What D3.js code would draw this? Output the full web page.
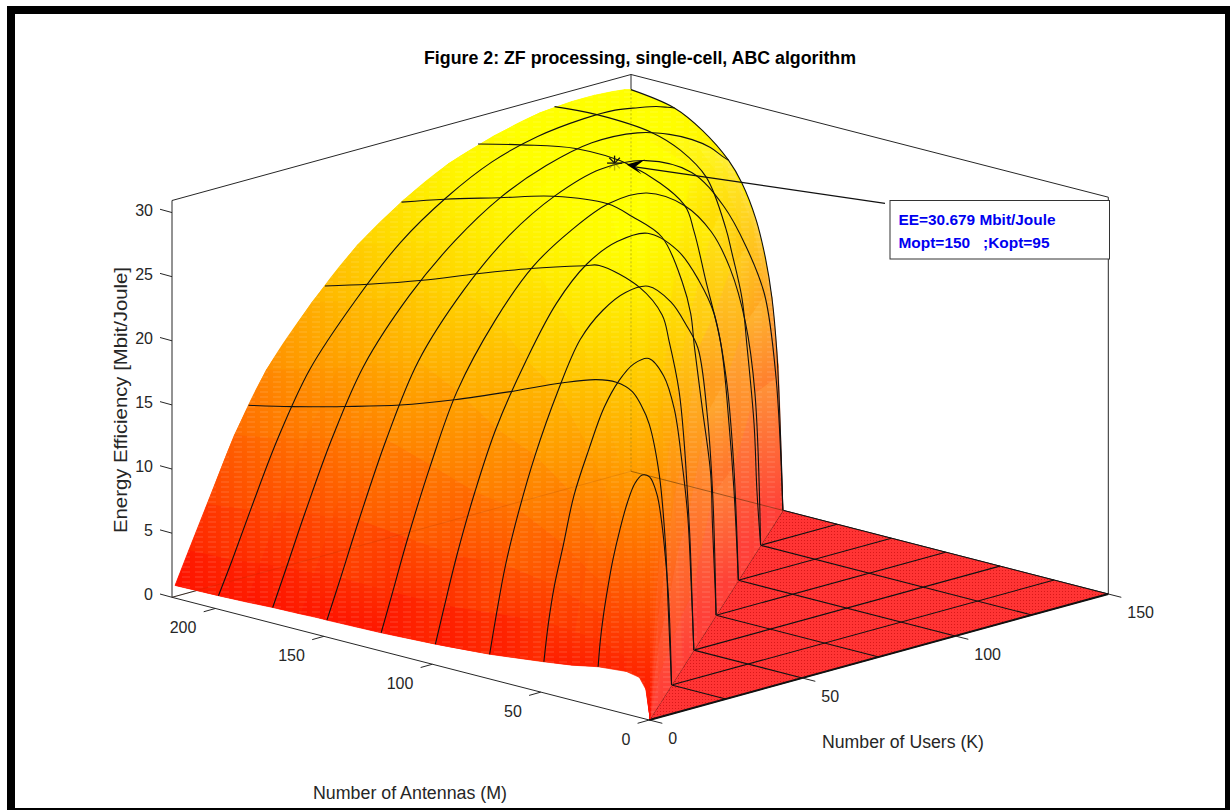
<!DOCTYPE html>
<html lang="en">

<head>
    <meta charset="UTF-8">
    <title>Figure 2: ZF processing, single-cell, ABC algorithm</title>
    <script src="https://d3js.org/d3.v7.min.js"></script>
    <style>
        body {
            margin: 0;
            background: #fff;
        }

        svg {
            display: block;
            font-family: "Liberation Sans", Arial, sans-serif;
        }

        .tick-label {
            font-size: 16px;
            fill: #262626;
        }

        .axis-label {
            font-size: 18px;
            fill: #262626;
        }

        .mesh {
            fill: none;
            stroke: #111;
            stroke-width: 1.1;
        }
    </style>
</head>

<body>
    <svg width="1230" height="810"></svg>

    <script>
        // Values
        const eeTicks = [0, 5, 10, 15, 20, 25, 30];
        const antennaTicks = [0, 50, 100, 150, 200];
        const userTicks = [0, 50, 100, 150];
        const gridLevels = [25, 50, 75, 100, 125];

        // Surface rows: one row per M, sampled at K = 1 + f * (min(M,150) - 1)
        const kFractions = [0, .03, .07, .13, .2, .3, .4, .5, .6, .7, .8, .87, .92, .96, .985, 1];
        const antennaRows = [1, 3, 6, 12, 25, 37, 50, 75, 100, 125, 150, 152, 155, 162, 175, 187, 200, 220];
        const eeRows = [
            [0, 0, 0, 0, 0, 0, 0, 0, 0, 0, 0, 0, 0, 0, 0, 0],
            [2.2, 2.3, 2.4, 2.5, 2.7, 2.9, 3.0, 3.1, 3.1, 2.9, 2.6, 2.2, 1.7, 1.2, .6, 0],
            [3, 3.3, 3.6, 4, 4.6, 5.3, 5.9, 6.3, 6.5, 6.3, 5.6, 4.8, 3.8, 2.7, 1.3, 0],
            [3.2, 4.2, 5, 6, 7.1, 8.5, 9.7, 10.5, 11, 10.7, 9.5, 8.2, 6.5, 4.7, 2.3, 0],
            [3, 5, 6.8, 8.9, 11, 13.3, 15.2, 16.5, 17, 16.7, 15.2, 12.7, 9.8, 6.8, 3.2, 0],
            [2.6, 5.1, 7.4, 9.8, 12.7, 15.5, 18.2, 20, 20.9, 21, 19.7, 17, 13.4, 9.3, 4, 0],
            [2.3, 5.2, 8, 11, 14.6, 17.9, 20.8, 22.6, 23.6, 23.7, 22, 19.2, 15, 10.5, 4.4, 0],
            [1.8, 4.8, 8.4, 12.4, 16.3, 20.8, 24.4, 26.2, 27.1, 27.1, 25.4, 23.2, 21.2, 16, 9.5, 0],
            [1.5, 4.3, 7.9, 12.5, 17, 21.7, 25.5, 27.9, 29, 29, 27, 24.2, 21.3, 16, 9, 0],
            [1.3, 4.2, 8.1, 13.3, 18.5, 23.2, 26.6, 28.6, 29.9, 29.9, 28.1, 25.5, 22.2, 17.7, 12, 0],
            [1.2, 4.2, 8.3, 14, 19.4, 24, 27.3, 29.4, 30.5, 30.2, 28.3, 25, 21.3, 17.2, 10.5, 0],
            [1.2, 4.2, 8.3, 14, 19.4, 24, 27.2, 29.3, 30.5, 30.3, 28.6, 25.4, 22.5, 19.5, 14, 11],
            [1.2, 4.1, 8.2, 13.8, 19.2, 23.9, 27, 29.2, 30.4, 30.4, 29, 26, 24, 22, 19, 16.3],
            [1.15, 4, 8, 13.5, 18.8, 23.3, 26.5, 28.9, 30.3, 30.5, 29.4, 27.3, 26.2, 24.8, 23, 21.9],
            [1.1, 3.9, 7.7, 13, 18, 22.5, 25.8, 28.2, 29.7, 30.5, 30.3, 29.5, 28.6, 27.6, 26.7, 26.2],
            [1, 3.7, 7.3, 12.4, 17.3, 21.7, 25.2, 27.7, 29.3, 30.2, 30.4, 30, 29.4, 28.8, 28.3, 28],
            [.93, 3.4, 6.9, 11.9, 16.6, 21, 24.6, 27.1, 28.9, 29.9, 30.3, 30.3, 30, 29.7, 29.4, 29.2],
            [.86, 3.3, 6.5, 11.3, 15.7, 20, 23.5, 26, 27.9, 29.1, 29.9, 30.1, 30.1, 30, 29.9, 29.76]
        ];

        // Constant-K mesh lines, M going from the K=M ridge out to 220
        const kLine25M = [25, 26.5, 27.9, 30.7, 35.3, 39, 43.1, 50.5, 59.8, 75, 100, 125, 150, 175, 200, 220];
        const kLine25EE = [0, 5.8, 11.1, 16.2, 19.9, 21.2, 22.1, 22.5, 22.3, 21.4, 19.6, 17.9, 16.4, 15.2, 14.1, 13.34];
        const kLine50M = [50, 50.8, 51.7, 53, 54.5, 56.8, 61.4, 64.6, 75, 93.6, 100, 125, 150, 175, 200, 220];
        const kLine50EE = [0, 3.9, 8.3, 12.3, 16.1, 19.9, 23.6, 25.5, 27.2, 28.1, 27.8, 26.5, 25, 23.4, 22, 21];
        const kLine75M = [75, 75.4, 76.7, 77.5, 81.4, 85, 86.7, 90.6, 100, 113.7, 125, 150, 175, 200, 220];
        const kLine75EE = [0, 1.9, 7.1, 10.9, 15.9, 20.5, 23, 25.3, 28.4, 29.4, 29.9, 29.4, 28.2, 27, 25.9];
        const kLine100M = [100, 102, 104.3, 108, 115, 120.4, 125, 150, 175, 200, 220];
        const kLine100EE = [0, 6.9, 12, 18, 22.7, 26.3, 28.2, 30.2, 30.4, 29.6, 28.8];
        const kLine125M = [125, 126.7, 128, 131.3, 133.6, 138.2, 141, 150, 162, 175, 200, 220];
        const kLine125EE = [0, 4.2, 9.3, 15.3, 18.9, 22.2, 24, 27.6, 29.2, 30, 30.3, 30.07];
        const kLine150M = [150, 151, 152.8, 155, 158, 162.5, 168.9, 175, 187, 200, 220];
        const kLine150EE = [0, 5.4, 12.3, 16.3, 19.3, 22.2, 24.7, 26.2, 28, 29.2, 29.76];

        // Optimum marked on the surface
        const optM = 150;
        const optK = 95;
        const optEE = 30.679;
        const calloutLines = ["EE=30.679 Mbit/Joule", "Mopt=150   ;Kopt=95"];

        const svg = d3.select("svg");

        // Orthographic view: each data axis gets an x and a y scale
        const origin = [649.3, 720];
        const maxM = 220, maxK = 150, maxEE = 30.94;
        const mX = d3.scaleLinear([0, maxM], [0, -477.3]);
        const mY = d3.scaleLinear([0, maxM], [0, -122.7]);
        const kX = d3.scaleLinear([0, maxK], [0, 459]);
        const kY = d3.scaleLinear([0, maxK], [0, -126]);
        const zY = d3.scaleLinear([0, maxEE], [0, -396.8]);

        function project(m, k, z) {
            return [origin[0] + mX(m) + kX(k), origin[1] + mY(m) + kY(k) + zY(z)];
        }

        const line = d3.line().curve(d3.curveCatmullRom.alpha(0.5));
        const straight = d3.line();

        // autumn colormap, red at 0 and yellow at the top
        const autumn = z => d3.rgb(255, 255 * Math.min(1, 0.04 + z / 30.2), 0);

        const rowK = (m, j) => 1 + kFractions[j] * (Math.min(m, maxK) - 1);
        const rowPoint = (i, j) => project(antennaRows[i], rowK(antennaRows[i], j), eeRows[i][j]);

        // Pale sheen on the steep wall next to K=M
        const wallWash = [0, 0, 0, 0, 0, 0, 0, 0, 0, 0, 0, .02, .07, .12, .18, .22];

        const defs = svg.append("defs");

        const floorPattern = defs.append("pattern")
            .attr("id", "floor-dots")
            .attr("patternUnits", "userSpaceOnUse")
            .attr("width", 3).attr("height", 3);
        floorPattern.append("rect").attr("width", 3).attr("height", 3).attr("fill", "#ff3434");
        floorPattern.append("rect").attr("width", 1).attr("height", 1).attr("fill", "#d81818");

        const sheenPattern = defs.append("pattern")
            .attr("id", "sheen")
            .attr("patternUnits", "userSpaceOnUse")
            .attr("width", 13).attr("height", 5);
        sheenPattern.append("line")
            .attr("x1", 0).attr("x2", 8).attr("y1", 2).attr("y2", 2)
            .attr("stroke", "#fff").attr("stroke-opacity", 0.22).attr("stroke-width", 0.8);

        // Frame round the figure
        const frame = svg.append("g").attr("fill", "#000");
        frame.append("rect").attr("x", 7).attr("y", 6).attr("width", 1223).attr("height", 8);
        frame.append("rect").attr("x", 7).attr("y", 6).attr("width", 8).attr("height", 804);
        frame.append("rect").attr("x", 1225).attr("y", 6).attr("width", 5).attr("height", 804);
        frame.append("rect").attr("x", 7).attr("y", 808).attr("width", 1223).attr("height", 2);

        // Box edges behind the surface
        const box = svg.append("g").attr("fill", "none").attr("stroke", "#262626").attr("stroke-width", 1);
        const boxEdge = pts => box.append("path").attr("d", straight(pts.map(p => project(...p))));
        boxEdge([[maxM, 0, 0], [maxM, 0, maxEE], [maxM, maxK, maxEE], [0, maxK, maxEE], [0, maxK, 0]]);
        boxEdge([[maxM, maxK, maxEE], [maxM, maxK, 0]]);
        boxEdge([[maxM, 0, 0], [maxM, maxK, 0], [0, maxK, 0]]);
        boxEdge([[maxM, 0, 0], [0, 0, 0], [0, maxK, 0]]);

        // Floor where K > M
        const floor = svg.append("g");
        floor.append("path")
            .attr("d", straight([[0, 0], [maxK, maxK], [0, maxK]].map(p => project(p[0], p[1], 0))) + "Z")
            .attr("fill", "url(#floor-dots)");
        gridLevels.forEach(v => {
            floor.append("path").attr("class", "mesh")
                .attr("d", straight([project(v, v, 0), project(0, v, 0)]));
            floor.append("path").attr("class", "mesh")
                .attr("d", straight([project(v, v, 0), project(v, maxK, 0)]));
        });
        floor.append("path").attr("class", "mesh")
            .attr("d", straight([project(0, 0, 0), project(0, maxK, 0)]))
            .style("stroke-width", 2);
        floor.append("path").attr("class", "mesh")
            .attr("d", straight([project(maxK, maxK, 0), project(0, maxK, 0)]));
        floor.append("path").attr("class", "mesh")
            .attr("d", straight([project(0, 0, 0), project(maxK, maxK, 0)]));

        // Outline of the whole surface, used as an underlay and for the sheen
        const edgeFar = eeRows[eeRows.length - 1].map((z, j) => project(maxM, rowK(maxM, j), z));
        const edgeRight = kLine150M.map((m, i) => project(m, maxK, kLine150EE[i])).reverse();
        const edgeNear = antennaRows.map((m, i) => project(m, 1, eeRows[i][0]));
        const outline = line(edgeFar)
            + line(edgeRight).replace(/^M/, "L")
            + straight([project(1, 1, 0)]).replace(/^M/, "L").replace(/Z$/, "")
            + line(edgeNear).replace(/^M/, "L") + "Z";

        const farTop = edgeFar[edgeFar.length - 1][1], farBottom = edgeFar[0][1];
        const underlay = defs.append("linearGradient")
            .attr("id", "underlay")
            .attr("gradientUnits", "userSpaceOnUse")
            .attr("x1", 0).attr("x2", 0)
            .attr("y1", farTop).attr("y2", farBottom);
        eeRows[eeRows.length - 1].slice().reverse().forEach((z, j, arr) => {
            underlay.append("stop")
                .attr("offset", (edgeFar[arr.length - 1 - j][1] - farTop) / (farBottom - farTop))
                .attr("stop-color", autumn(z));
        });

        const surface = svg.append("g");
        surface.append("path").attr("d", outline).attr("fill", "url(#underlay)");

        // One quad per table cell, far cells first
        const cells = [];
        for (let i = 0; i < antennaRows.length - 1; i++) {
            for (let j = 0; j < kFractions.length - 1; j++) {
                const corners = [[i, j], [i + 1, j], [i + 1, j + 1], [i, j + 1]].map(([a, b]) => ({
                    p: rowPoint(a, b),
                    z: eeRows[a][b],
                    ground: project(antennaRows[a], rowK(antennaRows[a], b), 0)[1]
                }));
                cells.push({
                    i, j, corners,
                    depth: d3.mean(corners, c => c.ground)
                });
            }
        }
        cells.sort((a, b) => a.depth - b.depth);

        cells.forEach((cell, n) => {
            const low = d3.least(cell.corners, c => c.z);
            const high = d3.greatest(cell.corners, c => c.z);
            const wash = antennaRows[cell.i] <= 162 ? wallWash[cell.j + 1] : 0;
            const tint = c => d3.interpolateRgb(autumn(c.z), "#fff")(wash);
            const grad = defs.append("linearGradient")
                .attr("id", "cell" + n)
                .attr("gradientUnits", "userSpaceOnUse")
                .attr("x1", low.p[0]).attr("y1", low.p[1])
                .attr("x2", high.p[0]).attr("y2", high.p[1]);
            grad.append("stop").attr("offset", 0).attr("stop-color", tint(low));
            grad.append("stop").attr("offset", 1).attr("stop-color", tint(high));
            surface.append("path")
                .attr("d", straight(cell.corners.map(c => c.p)) + "Z")
                .attr("fill", `url(#cell${n})`)
                .attr("stroke", `url(#cell${n})`)
                .attr("stroke-width", 0.7);
        });

        surface.append("path").attr("d", outline).attr("fill", "url(#sheen)");

        // Box edges faintly showing through the surface
        const ghost = svg.append("g").attr("fill", "none");
        ghost.append("path")
            .attr("d", straight([project(maxM, maxK, 0), project(maxM, maxK, 29.76)]))
            .attr("stroke", "#5a5a00").attr("stroke-opacity", 0.4).attr("stroke-dasharray", "2,2");
        ghost.append("path")
            .attr("d", straight([project(maxM, maxK, 0), project(maxK, maxK, 0)]))
            .attr("stroke", "#4a2a00").attr("stroke-opacity", 0.5);
        ghost.append("path")
            .attr("d", straight([project(maxM, maxK, 0), project(maxM, 0, 0)]))
            .attr("stroke", "#803000").attr("stroke-opacity", 0.16);

        // Black mesh on the surface
        const mesh = svg.append("g");
        gridLevels.concat([150, 175, 200]).forEach(m => {
            const i = antennaRows.indexOf(m);
            mesh.append("path").attr("class", "mesh")
                .attr("d", line(eeRows[i].map((z, j) => project(m, rowK(m, j), z))));
        });
        [
            [25, kLine25M, kLine25EE],
            [50, kLine50M, kLine50EE],
            [75, kLine75M, kLine75EE],
            [100, kLine100M, kLine100EE],
            [125, kLine125M, kLine125EE],
            [150, kLine150M, kLine150EE]
        ].forEach(([k, ms, zs]) => {
            mesh.append("path").attr("class", "mesh")
                .attr("d", line(ms.map((m, i) => project(m, k, zs[i]))));
        });

        // Ticks and tick labels
        const ticks = svg.append("g");
        const tickLine = (a, b) => ticks.append("line")
            .attr("x1", a[0]).attr("y1", a[1]).attr("x2", b[0]).attr("y2", b[1])
            .attr("stroke", "#262626").attr("stroke-width", 1);
        const tickText = (x, y, anchor, t) => ticks.append("text")
            .attr("class", "tick-label")
            .attr("x", x).attr("y", y)
            .attr("dy", "0.36em")
            .attr("text-anchor", anchor)
            .text(t);

        eeTicks.forEach(v => {
            const p = project(maxM, 0, v);
            tickLine(p, [p[0] - 12, p[1] - 3.3]);
            tickText(p[0] - 19, p[1] - 2.6, "end", v);
        });
        antennaTicks.forEach(v => {
            const p = project(v, 0, 0);
            tickLine(p, [p[0] - 11.7, p[1] + 3.3]);
            tickText(p[0] - 19, p[1] + 19, "end", v);
        });
        userTicks.forEach(v => {
            const p = project(0, v, 0);
            tickLine(p, [p[0] + 13, p[1] + 3.3]);
            tickText(p[0] + 19, p[1] + 18.5, "start", v);
        });

        // Title and axis labels
        svg.append("text")
            .attr("x", 640).attr("y", 64)
            .attr("text-anchor", "middle")
            .attr("font-size", 17.5).attr("font-weight", "bold").attr("fill", "#000")
            .attr("textLength", 432).attr("lengthAdjust", "spacingAndGlyphs")
            .text("Figure 2: ZF processing, single-cell, ABC algorithm");

        svg.append("text").attr("class", "axis-label")
            .attr("transform", "translate(127,400) rotate(-90)")
            .attr("text-anchor", "middle")
            .attr("textLength", 266).attr("lengthAdjust", "spacingAndGlyphs")
            .text("Energy Efficiency [Mbit/Joule]");

        svg.append("text").attr("class", "axis-label")
            .attr("x", 410).attr("y", 799)
            .attr("text-anchor", "middle")
            .attr("textLength", 194).attr("lengthAdjust", "spacingAndGlyphs")
            .text("Number of Antennas (M)");

        svg.append("text").attr("class", "axis-label")
            .attr("x", 903).attr("y", 748)
            .attr("text-anchor", "middle")
            .attr("textLength", 162).attr("lengthAdjust", "spacingAndGlyphs")
            .text("Number of Users (K)");

        // Star at the optimum, its lower arms sink into the surface
        const star = project(optM, optK, optEE);
        d3.range(8).forEach(n => {
            const a = n * Math.PI / 4;
            const dx = Math.cos(a) * 7.5, dy = Math.sin(a) * 7.5;
            svg.append("line")
                .attr("x1", star[0]).attr("y1", star[1])
                .attr("x2", star[0] + dx).attr("y2", star[1] + dy)
                .attr("stroke", dy > 0.1 ? "#6a6a00" : "#111")
                .attr("stroke-opacity", dy > 0.1 ? 0.45 : 1)
                .attr("stroke-width", 1.3);
        });

        // Callout box and arrow
        const tip = [star[0] + 12, star[1] + 1.4];
        const notch = [tip[0] + 8.4, tip[1] + 2.4];
        svg.append("line")
            .attr("x1", 885).attr("y1", 203.3)
            .attr("x2", notch[0]).attr("y2", notch[1])
            .attr("stroke", "#111").attr("stroke-width", 1.2);
        svg.append("path")
            .attr("d", straight([tip, [tip[0] + 18.4, tip[1] - 5], notch, [tip[0] + 15, tip[1] + 9.7]]) + "Z")
            .attr("fill", "#000");

        svg.append("rect")
            .attr("x", 890).attr("y", 200.5)
            .attr("width", 219.5).attr("height", 58.5)
            .attr("fill", "#fff").attr("stroke", "#333").attr("stroke-width", 1);
        const calloutWidths = [157, 151];
        calloutLines.forEach((t, i) => {
            svg.append("text")
                .attr("x", 898.5).attr("y", 224.5 + i * 23)
                .attr("xml:space", "preserve")
                .style("white-space", "pre")
                .attr("font-size", 14.5).attr("font-weight", "bold").attr("fill", "#0000f0")
                .attr("textLength", calloutWidths[i]).attr("lengthAdjust", "spacingAndGlyphs")
                .text(t);
        });
    </script>
</body>

</html>
